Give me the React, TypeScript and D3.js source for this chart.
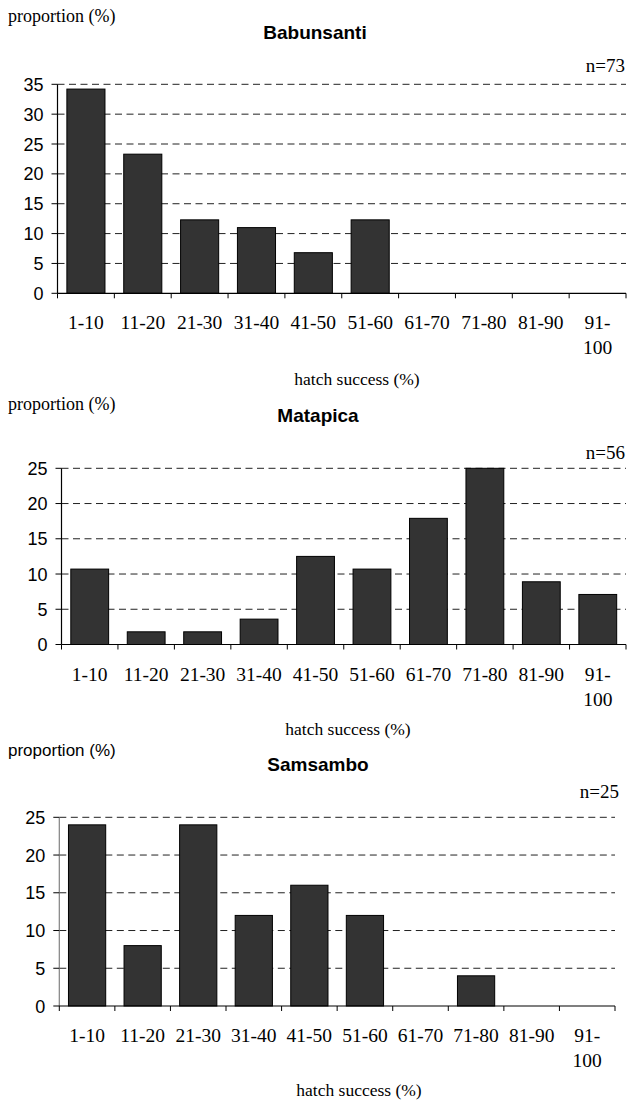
import React from "react";
import * as d3 from "d3";

const categories = ["1-10", "11-20", "21-30", "31-40", "41-50", "51-60", "61-70", "71-80", "81-90", "91-100"];
const babunsantiValues = [34.2, 23.3, 12.3, 11.0, 6.8, 12.3, 0, 0, 0, 0];
const matapicaValues = [10.7, 1.8, 1.8, 3.6, 12.5, 10.7, 17.9, 25.0, 8.9, 7.1];
const samsamboValues = [24, 8, 24, 12, 16, 12, 0, 4, 0, 0];
const babunsantiTicks = [0, 5, 10, 15, 20, 25, 30, 35];
const matapicaTicks = [0, 5, 10, 15, 20, 25];
const samsamboTicks = [0, 5, 10, 15, 20, 25];
const titles = ["Babunsanti", "Matapica", "Samsambo"];
const sampleSizes = ["n=73", "n=56", "n=25"];
const yAxisTitle = "proportion (%)";
const xAxisTitle = "hatch success (%)";

const SERIF = "'Liberation Serif', 'Times New Roman', serif";
const SANS = "'Liberation Sans', Arial, sans-serif";

type PanelProps = {
  title: string;
  n: string;
  values: number[];
  ticks: number[];
  x0: number;
  x1: number;
  yTop: number;
  yZero: number;
  propFont: string;
  propSize: number;
  propY: number;
  titleY: number;
  titleX: number;
  nY: number;
  nX: number;
  xTitleY: number;
  xTitleX: number;
  yAxisColor: string;
};

function splitLabel(l: string): string[] {
  if (l.length > 5) {
    const i = l.indexOf("-");
    return [l.slice(0, i + 1), l.slice(i + 1)];
  }
  return [l];
}

function Panel(p: PanelProps) {
  const yMax = p.ticks[p.ticks.length - 1];
  const y = d3.scaleLinear().domain([0, yMax]).range([p.yZero, p.yTop]);
  const band = d3.scaleBand<string>().domain(categories).range([p.x0, p.x1]).paddingInner(0.33).paddingOuter(0.165);
  const outer = d3.scaleBand<string>().domain(categories).range([p.x0, p.x1]);
  const boundaries = categories.map((c) => outer(c) as number).concat([p.x1]);
  return (
    <g>
      <text x={8} y={p.propY} fontFamily={p.propFont} fontSize={p.propSize} fill="#000">
        {yAxisTitle}
      </text>
      <text x={p.titleX} y={p.titleY} fontFamily={SANS} fontWeight="bold" fontSize={19} textAnchor="middle" fill="#000">
        {p.title}
      </text>
      <text x={p.nX} y={p.nY} fontFamily={SERIF} fontSize={19} textAnchor="end" fill="#000">
        {p.n}
      </text>
      {p.ticks.filter((t) => t > 0).map((t) => (
        <line key={"g" + t} x1={p.x0} x2={p.x1} y1={y(t)} y2={y(t)} stroke="#222" strokeWidth={1} strokeDasharray="7,4.5" />
      ))}
      {p.values.map((v, i) =>
        v > 0 ? (
          <rect
            key={"b" + i}
            x={band(categories[i])}
            y={y(v)}
            width={band.bandwidth()}
            height={p.yZero - y(v)}
            fill="#333333"
            stroke="#000"
            strokeWidth={1}
          />
        ) : null
      )}
      <line x1={p.x0} x2={p.x0} y1={p.yTop} y2={p.yZero} stroke={p.yAxisColor} strokeWidth={1.2} />
      {p.ticks.map((t) => (
        <g key={"t" + t}>
          <line x1={p.x0 - 6} x2={p.x0} y1={y(t)} y2={y(t)} stroke="#000" strokeWidth={1} />
          <text x={p.x0 - 14} y={y(t) + 6.5} fontFamily={SANS} fontSize={18} textAnchor="end" fill="#000">
            {t}
          </text>
        </g>
      ))}
      <line x1={p.x0} x2={p.x1} y1={p.yZero} y2={p.yZero} stroke="#000" strokeWidth={1.2} />
      {boundaries.map((b, i) => (
        <line key={"xb" + i} x1={b} x2={b} y1={p.yZero} y2={p.yZero + 5} stroke="#000" strokeWidth={1} />
      ))}
      {categories.map((c) => {
        const cx = (outer(c) as number) + outer.bandwidth() / 2;
        const lines = splitLabel(c);
        return (
          <text key={"l" + c} x={cx} y={p.yZero + 36} fontFamily={SERIF} fontSize={19.5} textAnchor="middle" fill="#000">
            {lines.map((ln, k) => (
              <tspan key={k} x={cx} dy={k === 0 ? 0 : 25}>
                {ln}
              </tspan>
            ))}
          </text>
        );
      })}
      <text x={p.xTitleX} y={p.xTitleY} fontFamily={SERIF} fontSize={17.5} textAnchor="middle" fill="#000">
        {xAxisTitle}
      </text>
    </g>
  );
}

export default function App() {
  return (
    <svg width={632} height={1101} style={{ position: "absolute", left: 0, top: 0, background: "#fff" }}>
      <Panel
        title={titles[0]}
        n={sampleSizes[0]}
        values={babunsantiValues}
        ticks={babunsantiTicks}
        x0={57.5}
        x1={626}
        yTop={84.3}
        yZero={293.3}
        propFont={SERIF}
        propSize={18}
        propY={22}
        titleY={39}
        titleX={315}
        nY={72}
        nX={625}
        xTitleY={385}
        xTitleX={357}
        yAxisColor="#000"
      />
      <Panel
        title={titles[1]}
        n={sampleSizes[1]}
        values={matapicaValues}
        ticks={matapicaTicks}
        x0={61.5}
        x1={626}
        yTop={468.3}
        yZero={644.5}
        propFont={SERIF}
        propSize={18}
        propY={410}
        titleY={422}
        titleX={318}
        nY={459}
        nX={625}
        xTitleY={735}
        xTitleX={348}
        yAxisColor="#000"
      />
      <Panel
        title={titles[2]}
        n={sampleSizes[2]}
        values={samsamboValues}
        ticks={samsamboTicks}
        x0={59.3}
        x1={615}
        yTop={817.3}
        yZero={1006}
        propFont={SANS}
        propSize={17}
        propY={756}
        titleY={771}
        titleX={318}
        nY={798}
        nX={619}
        xTitleY={1096}
        xTitleX={359}
        yAxisColor="#808080"
      />
    </svg>
  );
}
